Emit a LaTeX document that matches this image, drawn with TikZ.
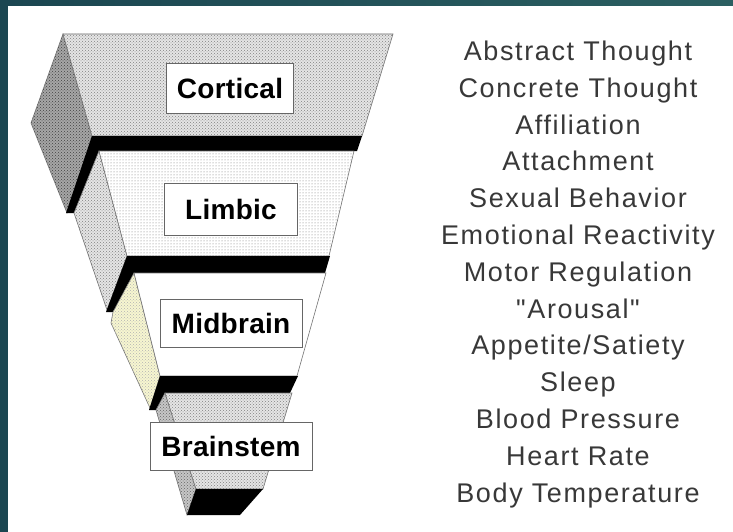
\documentclass[tikz,border=0pt]{standalone}
\usepackage{fontspec}
\setmainfont{Liberation Sans}[Ligatures=TeXOff]
\usetikzlibrary{patterns}

\definecolor{frameteal}{HTML}{1B4651}
\definecolor{frameteallight}{HTML}{2B5F61}
\definecolor{paleyellow}{HTML}{F7F6D0}

\tikzset{
  face/.style={draw=black!55, line width=0.6pt, fill=#1},
  stipple/.style={postaction={pattern=crosshatch dots, pattern color=#1}},
  sparse/.style={postaction={pattern=dots, pattern color=#1}},
  base/.style={fill=black},
  levelbox/.style={draw=black!60, line width=0.8pt, fill=white, inner sep=0pt,
    font=\fontsize{28}{28}\selectfont\bfseries\addfontfeature{LetterSpace=1}},
  fn/.style={anchor=base, text=black!78, inner sep=0pt,
    font=\fontsize{27}{27}\selectfont\addfontfeature{LetterSpace=6}}
}

\begin{document}
\begin{tikzpicture}[x=1pt, y=-1pt]
\useasboundingbox (0,0) rectangle (733,532);
\fill[white] (0,0) rectangle (733,532);
\shade[left color=frameteal, right color=frameteallight] (0,0) rectangle (733,6);
\fill[frameteal] (0,0) rectangle (8,532);

% cortical
\path[face=gray!70, stipple=black!75] (63,34) -- (31,123) -- (67,213) -- (92,136) -- cycle;
\path[face=gray!20, stipple=black!50] (63,34) -- (393,34) -- (362,136) -- (92,136) -- cycle;
\path[base] (92,136) -- (362,136) -- (357,151) -- (99,151) -- (74,213) -- (66,213) -- cycle;

% limbic
\path[face=gray!20, stipple=black!50] (99,151) -- (74,213) -- (107,310) -- (127,256) -- cycle;
\path[face=white, sparse=black!55] (99,151) -- (354,151) -- (329,256) -- (127,256) -- cycle;
\path[base] (127,256) -- (330,256) -- (325,273) -- (134,273) -- (113,312) -- (106,312) -- cycle;

% midbrain
\path[face=paleyellow, stipple=black!30] (134,273) -- (113,312) -- (111,323) -- (150,408) -- (160,376) -- cycle;
\path[face=white] (134,273) -- (326,273) -- (297,376) -- (160,376) -- cycle;
\path[base] (160,376) -- (298,376) -- (290,393) -- (165,393) -- (156,410) -- (149,410) -- cycle;

% brainstem
\path[face=gray!45, stipple=black!60] (165,393) -- (156,410) -- (187,515) -- (196,489) -- cycle;
\path[face=gray!20, stipple=black!50] (165,393) -- (292,393) -- (263,489) -- (196,489) -- cycle;
\path[base] (196,489) -- (263,489) -- (240,515) -- (187,515) -- cycle;

\node[levelbox, minimum width=127pt, minimum height=50pt] (cortical) at (230,88) {Cortical};
\node[levelbox, minimum width=133pt, minimum height=52pt] (limbic) at (231,209) {Limbic};
\node[levelbox, minimum width=142pt, minimum height=48pt] (midbrain) at (231,323) {Midbrain};
\node[levelbox, minimum width=162pt, minimum height=48pt] (brainstem) at (231,446) {Brainstem};

\foreach \txt [count=\i] in {Abstract Thought, Concrete Thought, Affiliation,
    Attachment, Sexual Behavior, Emotional Reactivity, Motor Regulation,
    "Arousal", Appetite/Satiety, Sleep, Blood Pressure,
    Heart Rate, Body Temperature}
  \node[fn] (fn\i) at (578, 60.5+36.8*\i-36.8) {\txt};
\end{tikzpicture}
\end{document}
